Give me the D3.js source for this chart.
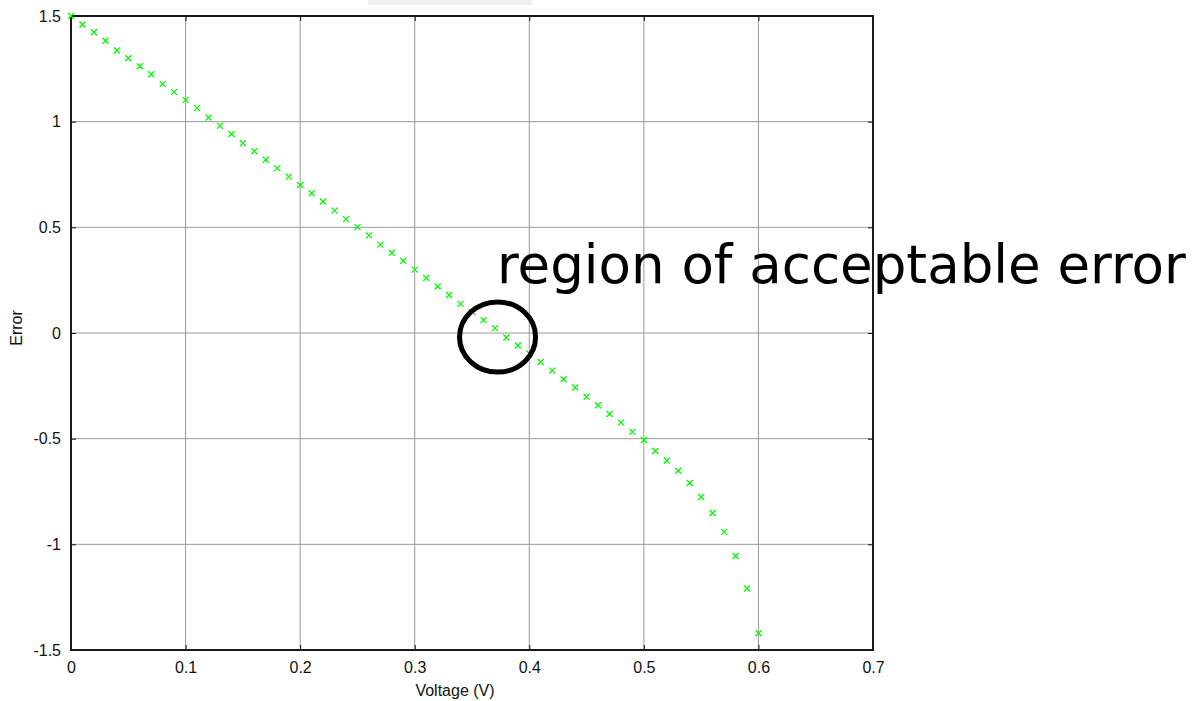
<!DOCTYPE html>
<html>
<head>
<meta charset="utf-8">
<script src="https://cdn.jsdelivr.net/npm/d3@7"></script>
<style>
  html, body { margin: 0; padding: 0; background: #fff; }
  svg { display: block; }
</style>
</head>
<body>
<div id="chart"></div>
<script>
const voltage = [
  0.00, 0.01, 0.02, 0.03, 0.04, 0.05, 0.06, 0.07, 0.08, 0.09,
  0.10, 0.11, 0.12, 0.13, 0.14, 0.15, 0.16, 0.17, 0.18, 0.19,
  0.20, 0.21, 0.22, 0.23, 0.24, 0.25, 0.26, 0.27, 0.28, 0.29,
  0.30, 0.31, 0.32, 0.33, 0.34, 0.35, 0.36, 0.37, 0.38, 0.39,
  0.40, 0.41, 0.42, 0.43, 0.44, 0.45, 0.46, 0.47, 0.48, 0.49,
  0.50, 0.51, 0.52, 0.53, 0.54, 0.55, 0.56, 0.57, 0.58, 0.59,
  0.60
];
const error = [
  1.500, 1.460, 1.423, 1.383, 1.337, 1.300, 1.262, 1.224, 1.179, 1.141,
  1.103, 1.064, 1.020, 0.980, 0.942, 0.898, 0.860, 0.820, 0.780, 0.740,
  0.700, 0.661, 0.622, 0.579, 0.539, 0.501, 0.462, 0.418, 0.380, 0.342,
  0.300, 0.260, 0.220, 0.180, 0.138, 0.100, 0.061, 0.023, -0.021, -0.059,
  -0.097, -0.137, -0.178, -0.219, -0.258, -0.302, -0.342, -0.383, -0.424, -0.468,
  -0.506, -0.558, -0.603, -0.652, -0.710, -0.776, -0.852, -0.941, -1.055, -1.209,
  -1.421
];

const xTicks = [0, 0.1, 0.2, 0.3, 0.4, 0.5, 0.6, 0.7];
const yTicks = [-1.5, -1, -0.5, 0, 0.5, 1, 1.5];
const xTickLabels = ['0', '0.1', '0.2', '0.3', '0.4', '0.5', '0.6', '0.7'];
const yTickLabels = ['-1.5', '-1', '-0.5', '0', '0.5', '1', '1.5'];

const xTitle = 'Voltage (V)';
const yTitle = 'Error';
const noteText = 'region of acceptable error';
// where the note sits, in data units
const noteAt = [0.3718, 0.237];
const circleAt = [0.3723, -0.019];
const circleR = [0.0332, 0.166];

const width = 1197, height = 701;
const margin = { top: 16, right: 324, bottom: 51, left: 71 };
const plotW = width - margin.left - margin.right;
const plotH = height - margin.top - margin.bottom;

const x = d3.scaleLinear().domain([0, 0.7]).range([0, plotW]);
const y = d3.scaleLinear().domain([-1.5, 1.5]).range([plotH, 0]);

const svg = d3.select('#chart').append('svg')
  .attr('width', width)
  .attr('height', height);

// leftover pale box at the top edge
svg.append('rect')
  .attr('x', 368).attr('y', 0)
  .attr('width', 164).attr('height', 5)
  .attr('fill', '#f0f0f0');

const g = svg.append('g')
  .attr('transform', `translate(${margin.left},${margin.top})`);

// grid
g.append('g').selectAll('line').data(xTicks).enter().append('line')
  .attr('x1', d => x(d)).attr('x2', d => x(d))
  .attr('y1', 0).attr('y2', plotH)
  .attr('stroke', '#9a9a9a').attr('stroke-width', 1);
g.append('g').selectAll('line').data(yTicks).enter().append('line')
  .attr('y1', d => y(d)).attr('y2', d => y(d))
  .attr('x1', 0).attr('x2', plotW)
  .attr('stroke', '#9a9a9a').attr('stroke-width', 1);

// axes: labels outside, short ticks inside on all four sides
const fmtX = (d, i) => xTickLabels[i];
const fmtY = (d, i) => yTickLabels[i];

const xAxis = g.append('g')
  .attr('transform', `translate(0,${plotH})`)
  .call(d3.axisBottom(x).tickValues(xTicks).tickFormat(fmtX).tickSize(-5).tickPadding(12));
const xTop = g.append('g')
  .call(d3.axisTop(x).tickValues(xTicks).tickFormat('').tickSize(-5));
const yAxis = g.append('g')
  .call(d3.axisLeft(y).tickValues(yTicks).tickFormat(fmtY).tickSize(-5).tickPadding(10));
const yRight = g.append('g')
  .attr('transform', `translate(${plotW},0)`)
  .call(d3.axisRight(y).tickValues(yTicks).tickFormat('').tickSize(-5));

[xAxis, xTop, yAxis, yRight].forEach(a => {
  a.select('.domain').remove();
  a.selectAll('.tick line').attr('stroke', '#111').attr('stroke-width', 1);
  a.selectAll('text')
    .attr('fill', '#111')
    .style('font-family', '"Liberation Sans", Arial, sans-serif')
    .style('font-size', '16px');
});

// box
g.append('rect')
  .attr('x', 0).attr('y', 0)
  .attr('width', plotW).attr('height', plotH)
  .attr('fill', 'none')
  .attr('stroke', '#1a1a1a')
  .attr('stroke-width', 2);

// x markers
const pts = voltage.map((v, i) => ({ v: v, e: error[i] }));
const s = 3;
g.append('g').selectAll('path').data(pts).enter().append('path')
  .attr('d', d => {
    const px = x(d.v), py = y(d.e);
    return `M${px - s},${py - s}L${px + s},${py + s}M${px - s},${py + s}L${px + s},${py - s}`;
  })
  .attr('stroke', '#00ff00')
  .attr('stroke-width', 1.3)
  .attr('fill', 'none');

// axis titles
svg.append('text')
  .attr('x', 455).attr('y', height - 5)
  .attr('text-anchor', 'middle')
  .style('font-family', '"Liberation Sans", Arial, sans-serif')
  .style('font-size', '16px')
  .attr('fill', '#111')
  .text(xTitle);

svg.append('text')
  .attr('transform', `translate(22,${margin.top + y(0) - 5}) rotate(-90)`)
  .attr('text-anchor', 'middle')
  .style('font-family', '"Liberation Sans", Arial, sans-serif')
  .style('font-size', '16px')
  .attr('fill', '#111')
  .text(yTitle);

// annotation
g.append('ellipse')
  .attr('cx', x(circleAt[0])).attr('cy', y(circleAt[1]))
  .attr('rx', x(circleR[0]) - x(0)).attr('ry', y(0) - y(circleR[1]))
  .attr('fill', 'none')
  .attr('stroke', '#000')
  .attr('stroke-width', 5);

g.append('text')
  .attr('x', x(noteAt[0])).attr('y', y(noteAt[1]))
  .style('font-family', '"DejaVu Sans", Verdana, sans-serif')
  .style('font-size', '53px')
  .attr('fill', '#000')
  .text(noteText);
</script>
</body>
</html>
